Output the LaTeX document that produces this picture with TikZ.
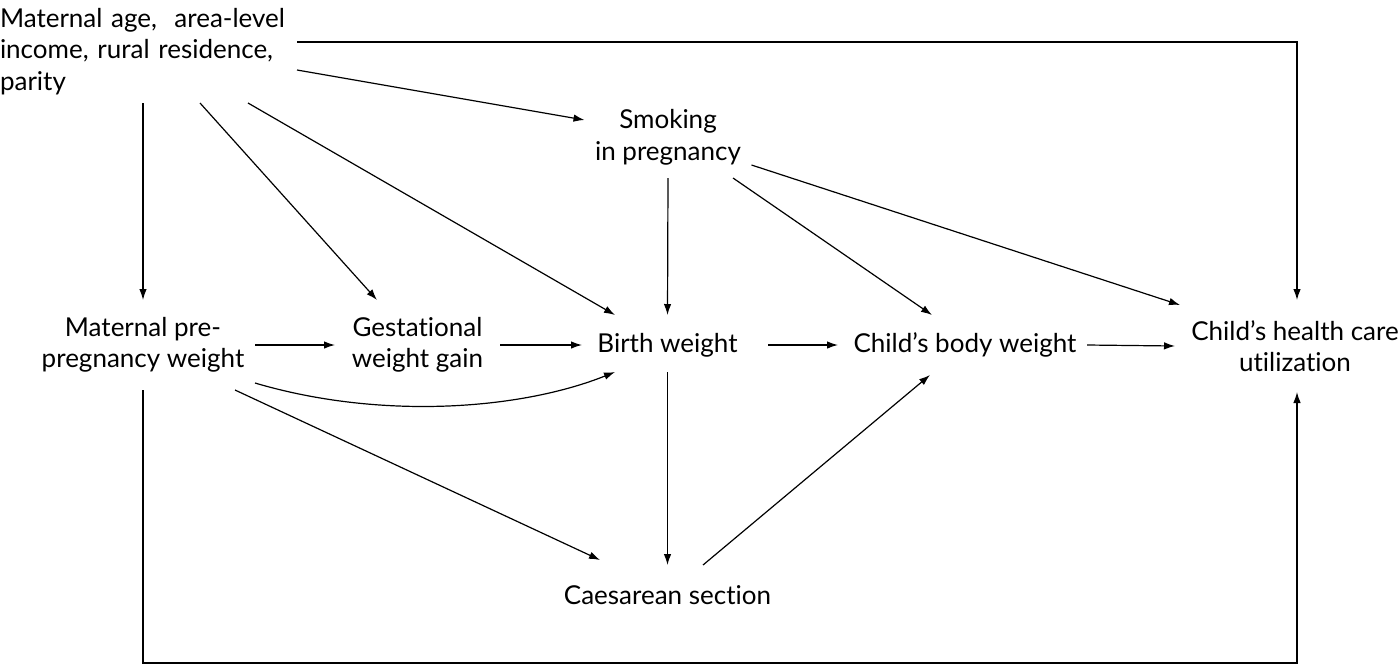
\documentclass[tikz,border=0pt]{standalone}
\usepackage{fontspec}
\setmainfont{Lato}[Ligatures={NoCommon}]
\usetikzlibrary{arrows.meta}
\begin{document}
\begin{tikzpicture}[x=1pt,y=-1pt,
  every node/.style={inner sep=0pt,outer sep=0pt,font=\fontsize{26}{31.5}\selectfont},
  box/.style={align=center,minimum width=#1},
  arr/.style={line width=1.2pt,-{Latex[length=11pt,width=7.5pt]}},
  ln/.style={line width=1.2pt}]
\useasboundingbox (0,0) rectangle (1399,665);
% nodes
\node[text width=297pt,align=left,minimum height=103pt,anchor=north west] (tl) at (0,0)
  {Maternal age,\ \ area-level\\income, rural residence,\\parity};
\node[box=167pt,minimum height=81pt] (smk) at (668,137.5) {Smoking\\in pregnancy};
\node[box=224pt,minimum height=90pt] (mat) at (143,345) {Maternal pre-\\pregnancy weight};
\node[box=165pt,minimum height=90pt] (gest) at (417.5,345) {Gestational\\weight gain};
\node[box=171pt,minimum height=60pt] (bw) at (667.5,345) {Birth weight};
\node[box=254pt,minimum height=60pt] (cbw) at (965,345) {Child's body weight};
\node[box=240pt,minimum height=92pt] (chc) at (1295,346) {Child's health care\\utilization};
\node[box=205pt,minimum height=60pt] (cs) at (667.5,595) {Caesarean section};
\coordinate (tr) at (1297,42);
\coordinate (br) at (1297,663);
% connectors from top-left
\draw[arr] ([yshift=9.5pt]tl.east) -- (tr) -- ([xshift=2pt]chc.north);
\draw[arr] ([yshift=-18.5pt]tl.east) -- ([yshift=17.5pt]smk.west);
\draw[arr] ([xshift=143pt]tl.south west) -- (mat.north);
\draw[arr] ([xshift=200pt]tl.south west) -- ([xshift=-40.5pt]gest.north);
\draw[arr] ([xshift=248pt]tl.south west) -- ([xshift=-52.5pt]bw.north);
% from smoking
\draw[arr] (smk.south) -- (bw.north);
\draw[arr] ([xshift=65pt]smk.south) -- ([xshift=-33pt]cbw.north);
\draw[arr] ([yshift=-27.5pt]smk.east) -- ([xshift=5pt,yshift=-5pt]chc.north west);
% middle row
\draw[arr] (mat.east) -- (gest.west);
\draw[arr] (gest.east) -- (bw.west);
\draw[arr] ([xshift=15pt]bw.east) -- (cbw.west);
\draw[arr] ([xshift=-5pt]cbw.east) -- (chc.west);
\draw[arr] ([yshift=-38pt]mat.east) .. controls (380,420) and (520,410) .. ([xshift=-52.5pt,yshift=3pt]bw.south);
% lower part
\draw[arr] ([xshift=-20pt]mat.south east) -- ([xshift=-67.5pt,yshift=5pt]cs.north);
\draw[arr] ([yshift=3pt]bw.south) -- (cs.north);
\draw[arr] ([xshift=35.5pt]cs.north) -- ([xshift=-35pt]cbw.south);
\draw[arr] (mat.south) |- (br) -- ([xshift=2pt]chc.south);
\end{tikzpicture}
\end{document}
